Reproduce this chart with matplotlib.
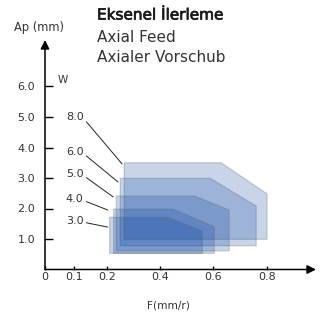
import matplotlib.pyplot as plt
import matplotlib.patheffects as pe
import numpy as np
from matplotlib.patches import Polygon

# widths W (mm) and their working areas: x from..to, y from..to, chamfer start
widths = ["8.0", "6.0", "5.0", "4.0", "3.0"]
f_min = [0.265, 0.25, 0.235, 0.225, 0.21]
f_max = [0.80, 0.76, 0.66, 0.605, 0.56]
f_cut = [0.63, 0.59, 0.53, 0.45, 0.43]
ap_min = [0.99, 0.78, 0.61, 0.53, 0.53]
ap_max = [3.50, 2.99, 2.41, 1.98, 1.71]
ap_cut = [2.48, 2.08, 1.95, 1.40, 1.26]

# label positions and leader line ends
lab_x = [0.072, 0.072, 0.072, 0.072, 0.072]
lab_y = [5.0, 3.85, 3.13, 2.31, 1.60]
tip_x = [0.257, 0.2415, 0.223, 0.203, 0.203]
tip_y = [3.46, 2.87, 2.38, 1.95, 1.39]

x_ticks = [0, 0.1, 0.2, 0.4, 0.6, 0.8]
x_tick_labels = ["0", "0.1", "0.2", "0.4", "0.6", "0.8"]
y_ticks = [1, 2, 3, 4, 5, 6]
y_tick_labels = ["1.0", "2.0", "3.0", "4.0", "5.0", "6.0"]

# the F axis is not linear near the origin (schematic drawing)
sx_d = [-1.0, 0.0, 0.1, 0.2, 0.4, 0.6, 0.8, 2.0]
sx_p = [-265, 0, 29, 62, 115, 168, 222, 222 + 1.2 * 265]


def fwd(v):
    return np.interp(v, sx_d, sx_p)


def inv(v):
    return np.interp(v, sx_p, sx_d)


txt = "#333333"
fig = plt.figure(figsize=(3.27, 3.22), dpi=100)
ax = fig.add_axes([45 / 327, (322 - 269.5) / 322, 271 / 327, (269.5 - 40) / 322])
ax.set_xscale("function", functions=(fwd, inv))
ax.set_xlim(0, inv(271))
ax.set_ylim(0, 229.5 / 30.5)

for i in range(len(widths)):
    pts = [(f_min[i], ap_min[i]), (f_min[i], ap_max[i]), (f_cut[i], ap_max[i]),
           (f_max[i], ap_cut[i]), (f_max[i], ap_min[i])]
    ax.add_patch(Polygon(pts, closed=True, facecolor=(0.02, 0.25, 0.62, 0.22),
                         edgecolor=(0.4, 0.4, 0.4, 0.3), lw=0.9))
    ax.annotate(widths[i], xy=(tip_x[i], tip_y[i]), xytext=(lab_x[i], lab_y[i]),
                fontsize=8, color=txt, va="center", ha="left",
                arrowprops=dict(arrowstyle="-", color="#222222", lw=0.7,
                                shrinkA=0, shrinkB=0, relpos=(1, 0.35)))

ax.text(0.045, 6.21, "W", fontsize=7.5, color=txt, va="center", ha="left")

for s in ax.spines.values():
    s.set_visible(False)
ax.annotate("", xy=(1, 0), xycoords="axes fraction", xytext=(0, 0),
            arrowprops=dict(arrowstyle="-|>", color="black", lw=1.1,
                            mutation_scale=13, shrinkA=0, shrinkB=0))
ax.annotate("", xy=(0, 1), xycoords="axes fraction", xytext=(0, 0),
            arrowprops=dict(arrowstyle="-|>", color="black", lw=1.1,
                            mutation_scale=13, shrinkA=0, shrinkB=0))

ax.set_xticks(x_ticks)
ax.set_xticklabels(x_tick_labels)
ax.set_yticks(y_ticks)
ax.set_yticklabels(y_tick_labels)
ax.tick_params(axis="x", direction="in", length=3, width=1, pad=1.5,
               labelsize=8, labelcolor=txt)
ax.tick_params(axis="y", direction="in", length=6, width=1, pad=7,
               labelsize=8, labelcolor=txt)

# titel, erste Zeile etwas kraeftiger
fig.text(97 / 327, 1 - 15 / 322, "Eksenel İlerleme", fontsize=11,
         color="#1a1a1a", va="center", ha="left",
         path_effects=[pe.withStroke(linewidth=0.5, foreground="#1a1a1a")])
fig.text(97 / 327, 1 - 37 / 322, "Axial Feed", fontsize=11,
         color=txt, va="center", ha="left")
fig.text(97 / 327, 1 - 58 / 322, "Axialer Vorschub", fontsize=11,
         color=txt, va="center", ha="left")
fig.text(39 / 327, 1 - 28 / 322, "Ap (mm)", fontsize=8.3,
         color=txt, va="center", ha="center")
fig.text(168 / 327, 1 - 305 / 322, "F(mm/r)", fontsize=7.6,
         color=txt, va="center", ha="center")

fig.savefig("out.png", dpi=100)
